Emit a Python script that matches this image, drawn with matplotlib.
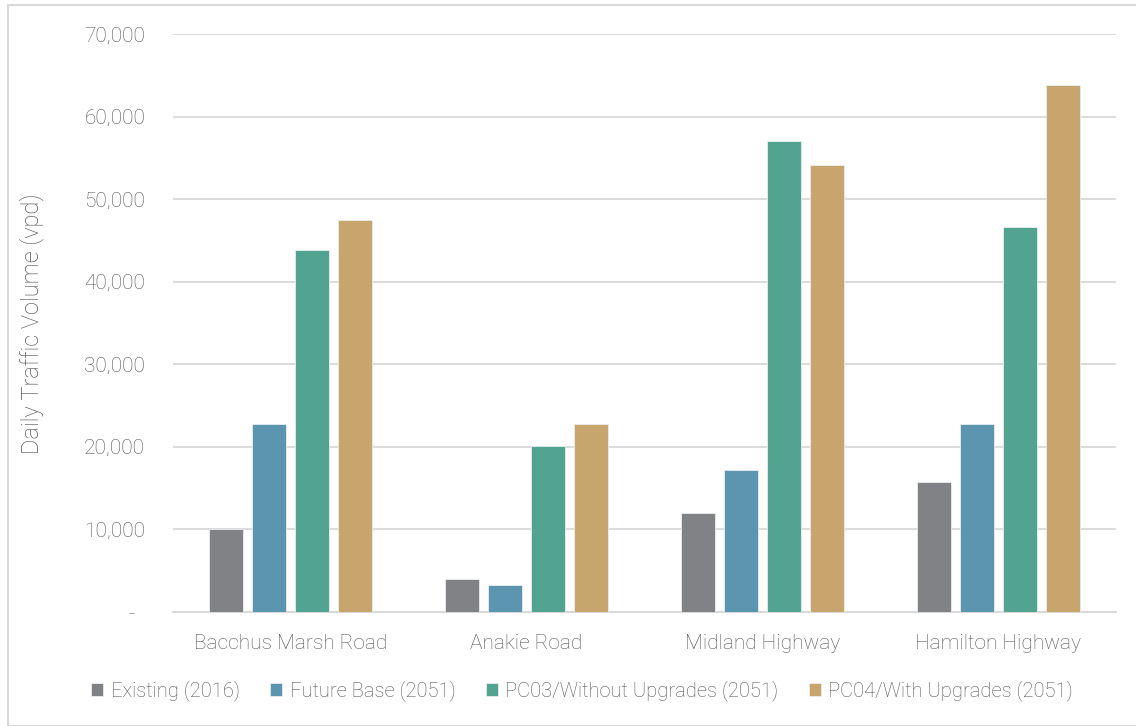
import matplotlib
matplotlib.use("Agg")
import matplotlib.pyplot as plt
import numpy as np
from matplotlib.patches import Rectangle
from matplotlib.ticker import FuncFormatter

plt.rcParams['font.family'] = ['Roboto', 'DejaVu Sans']
plt.rcParams['font.weight'] = 'light'

categories = ["Bacchus Marsh Road", "Anakie Road", "Midland Highway", "Hamilton Highway"]
series_names = ["Existing (2016)", "Future Base (2051)",
                "PC03/Without Upgrades (2051)", "PC04/With Upgrades (2051)"]
existing_2016 = [10000, 4000, 12000, 15800]
future_base_2051 = [22800, 3300, 17200, 22750]
pc03_without_upgrades = [43900, 20100, 57100, 46650]
pc04_with_upgrades = [47500, 22750, 54150, 63800]
colors = ["#818285", "#5B95B0", "#52A491", "#C9A56E"]
y_ticks = [0, 10000, 20000, 30000, 40000, 50000, 60000, 70000]

series = [existing_2016, future_base_2051, pc03_without_upgrades, pc04_with_upgrades]

text_color = "#555555"

fig = plt.figure(figsize=(11.36, 7.26), dpi=100)
W, H = 1136, 726
ax = fig.add_axes([173 / W, 1 - 612 / H, (1116 - 173) / W, (612 - 34) / H])

x = np.arange(len(categories))
bar_w = 34 / 236
step = 43 / 236
for i, (vals, name, c) in enumerate(zip(series, series_names, colors)):
    ax.bar(x + (i - 1.5) * step, vals, width=bar_w, color=c, label=name,
           edgecolor="#e8eef0", linewidth=0.6, zorder=3)

ax.set_xlim(-0.5, len(categories) - 0.5)
ax.set_ylim(0, 70000)
ax.set_yticks(y_ticks)
ax.yaxis.set_major_formatter(
    FuncFormatter(lambda v, p: "-  " if v == 0 else f"{int(v):,}"))
ax.grid(axis="y", color="#d9d9d9", linewidth=1.3, zorder=0)
for s in ["top", "right", "left"]:
    ax.spines[s].set_visible(False)
ax.spines["bottom"].set_color("#d9d9d9")
ax.spines["bottom"].set_linewidth(1.5)
ax.tick_params(axis="both", length=0, labelsize=15, labelcolor=text_color)
ax.tick_params(axis="y", pad=20)
ax.tick_params(axis="x", pad=16)
ax.set_xticks(x)
ax.set_xticklabels(categories)

fig.text(32 / W, 1 - 324 / H, "Daily Traffic Volume (vpd)", rotation=90,
         ha="center", va="center", fontsize=17, color=text_color)

leg = fig.legend(loc="center", bbox_to_anchor=(582 / W, 1 - 691 / H), ncol=4,
                 frameon=False, fontsize=14.5, handlelength=0.62, handleheight=0.62,
                 handletextpad=0.36, columnspacing=1.5, labelcolor=text_color)

# light frame round the chart area
fig.patches.append(Rectangle((8 / W, 0), 1.2, 1 - 5 / H, transform=fig.transFigure,
                             fill=False, edgecolor="#d9d9d9", linewidth=1.5))

fig.savefig("out.png", dpi=100, facecolor="white")
